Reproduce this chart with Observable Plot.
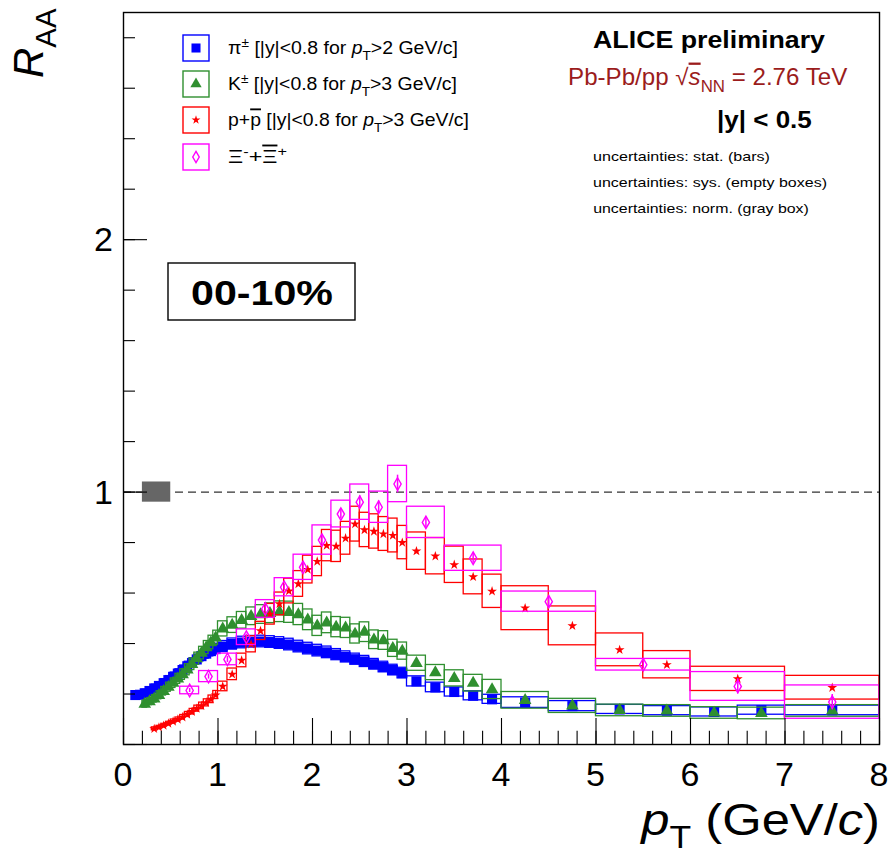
<!DOCTYPE html>
<html>
<head>
<meta charset="utf-8">
<script src="https://cdn.jsdelivr.net/npm/d3@7"></script>
<script src="https://cdn.jsdelivr.net/npm/@observablehq/plot@0.6"></script>
<style>
  body { margin: 0; background: #fff; }
  svg text { font-family: "Liberation Sans", Arial, Helvetica, sans-serif; }
</style>
</head>
<body>
<div id="chart"></div>
<script>
// ---- R_AA in 0-10% Pb-Pb at 2.76 TeV, per species: bin edges, values, systematic half-heights ----
const pionEdges = [0.10,0.15,0.20,0.25,0.30,0.35,0.40,0.45,0.50,0.55,0.60,0.65,0.70,0.75,0.80,0.85,0.90,0.95,1.00,
  1.10,1.20,1.30,1.40,1.50,1.60,1.70,1.80,1.90,2.00,2.10,2.20,2.30,2.40,2.50,2.60,2.70,2.80,2.90,3.00,
  3.20,3.40,3.60,3.80,4.00,4.50,5.00,5.50,6.00,6.50,7.00,8.00];
const pionRaa = [0.196,0.197,0.203,0.212,0.222,0.232,0.243,0.255,0.268,0.281,0.295,0.310,0.323,0.337,0.350,0.360,0.370,0.378,
  0.388,0.398,0.404,0.407,0.408,0.406,0.402,0.396,0.388,0.380,0.372,0.365,0.356,0.347,0.338,0.329,0.318,0.307,0.295,0.283,
  0.250,0.226,0.208,0.193,0.179,0.166,0.152,0.139,0.134,0.129,0.136,0.135];
const pionSys = [0.014,0.014,0.014,0.015,0.015,0.015,0.016,0.016,0.017,0.017,0.018,0.018,0.019,0.019,0.020,0.020,0.021,0.021,
  0.022,0.022,0.023,0.023,0.023,0.023,0.023,0.023,0.023,0.023,0.023,0.023,0.022,0.022,0.022,0.022,0.021,0.021,0.021,0.021,
  0.020,0.019,0.018,0.018,0.018,0.021,0.020,0.018,0.018,0.018,0.018,0.019];

const kaonEdges = [0.20,0.25,0.30,0.35,0.40,0.45,0.50,0.55,0.60,0.65,0.70,0.75,0.80,0.85,0.90,0.95,1.00,
  1.10,1.20,1.30,1.40,1.50,1.60,1.70,1.80,1.90,2.00,2.10,2.20,2.30,2.40,2.50,2.60,2.70,2.80,2.90,3.00,
  3.20,3.40,3.60,3.80,4.00,4.50,5.00,5.50,6.00,6.50,7.00,8.00];
const kaonRaa = [0.160,0.170,0.181,0.195,0.211,0.227,0.243,0.260,0.277,0.296,0.318,0.340,0.362,0.384,0.404,0.423,
  0.458,0.473,0.492,0.508,0.515,0.520,0.526,0.524,0.515,0.494,0.470,0.482,0.465,0.462,0.438,0.445,0.415,0.412,0.381,0.370,
  0.322,0.285,0.262,0.243,0.218,0.175,0.153,0.135,0.133,0.125,0.123,0.133];
const kaonSys = [0.014,0.014,0.015,0.016,0.017,0.018,0.019,0.020,0.021,0.022,0.023,0.024,0.025,0.026,0.027,0.028,
  0.030,0.031,0.033,0.035,0.037,0.039,0.041,0.042,0.042,0.041,0.040,0.041,0.040,0.040,0.038,0.039,0.037,0.037,0.034,0.034,
  0.030,0.030,0.032,0.033,0.038,0.033,0.028,0.023,0.023,0.023,0.023,0.023];

const protonEdges = [0.30,0.35,0.40,0.45,0.50,0.55,0.60,0.65,0.70,0.75,0.80,0.85,0.90,0.95,1.00,
  1.10,1.20,1.30,1.40,1.50,1.60,1.70,1.80,1.90,2.00,2.10,2.20,2.30,2.40,2.50,2.60,2.70,2.80,2.90,3.00,
  3.20,3.40,3.60,3.80,4.00,4.50,5.00,5.50,6.00,7.00,8.00];
const protonRaa = [0.062,0.068,0.075,0.083,0.091,0.099,0.108,0.119,0.130,0.142,0.153,0.165,0.179,0.196,
  0.230,0.278,0.333,0.397,0.450,0.516,0.557,0.608,0.636,0.693,0.725,0.788,0.785,0.817,0.873,0.850,0.844,0.834,0.828,0.800,
  0.766,0.746,0.712,0.664,0.607,0.540,0.470,0.375,0.316,0.260,0.225];
const protonSys = [0.006,0.006,0.007,0.007,0.008,0.008,0.009,0.010,0.011,0.012,0.013,0.014,0.015,0.016,
  0.019,0.023,0.027,0.032,0.036,0.041,0.045,0.049,0.051,0.055,0.058,0.062,0.062,0.065,0.069,0.068,0.068,0.067,0.067,0.066,
  0.074,0.072,0.072,0.069,0.066,0.087,0.077,0.065,0.054,0.048,0.047];

const xiEdges = [0.6,0.8,1.0,1.2,1.4,1.6,1.8,2.0,2.2,2.4,2.6,2.8,3.0,3.4,4.0,5.0,6.0,7.0,8.0];
const xiRaa  = [0.214,0.269,0.337,0.425,0.537,0.623,0.702,0.810,0.913,0.960,0.940,1.032,0.880,0.738,0.566,0.316,0.230,0.168];
const xiSys  = [0.015,0.022,0.023,0.031,0.035,0.036,0.050,0.058,0.053,0.070,0.062,0.072,0.062,0.050,0.040,0.023,0.057,0.066];
const xiStat = [0.008,0.010,0.012,0.012,0.012,0.012,0.015,0.018,0.020,0.025,0.025,0.035,0.020,0.020,0.020,0.015,0.030,0.030];

// normalisation uncertainty drawn at unity
const normBox = [{x1: 0.2, x2: 0.5, y1: 0.96, y2: 1.04}];

// axis ticks
const xTickLabels = [0, 1, 2, 3, 4, 5, 6, 7, 8];
const yTickLabels = [1, 2];
const xMinor = d3.range(0, 8.001, 0.2);
const yMinor = d3.range(0, 2.901, 0.2);
const yMajor = [0, 1, 2];

const colors = {pion: "#0000ff", kaon: "#2f8f2f", proton: "#ff0000", xi: "#ff00ff"};

function bins(edges, raa, sys, stat) {
  return raa.map((v, i) => ({
    lo: edges[i], hi: edges[i + 1], pt: (edges[i] + edges[i + 1]) / 2,
    v, sys: sys[i], stat: stat ? stat[i] : 0
  }));
}
const pion = bins(pionEdges, pionRaa, pionSys);
const kaon = bins(kaonEdges, kaonRaa, kaonSys);
const proton = bins(protonEdges, protonRaa, protonSys);
const xi = bins(xiEdges, xiRaa, xiSys, xiStat);

function sysBoxes(data, color) {
  return Plot.rect(data, {x1: "lo", x2: "hi", y1: d => d.v - d.sys, y2: d => d.v + d.sys,
    fill: "none", stroke: color, strokeWidth: 1.3});
}

const marker = {
  pion:   {symbol: "square",   r: 5.7, fill: colors.pion},
  kaon:   {symbol: "triangle", r: 4.7, fill: colors.kaon},
  proton: {symbol: "star",     r: 3.1, fill: colors.proton},
  xi:     {symbol: "diamond",  r: 3.8, fill: "none", stroke: colors.xi, strokeWidth: 1.4}
};

const plot = Plot.plot({
  width: 894,
  height: 858,
  marginLeft: 123,
  marginRight: 15,
  marginTop: 12,
  marginBottom: 114,
  style: {background: "#fff"},
  x: {domain: [0, 8], axis: null},
  y: {domain: [0, 2.9], axis: null},
  marks: [
    Plot.ruleY([1], {stroke: "#333", strokeWidth: 1.3, strokeDasharray: "8,5"}),
    Plot.rect(normBox, {x1: "x1", x2: "x2", y1: "y1", y2: "y2", fill: "#666"}),

    sysBoxes(pion, colors.pion),
    Plot.dot(pion, {x: "pt", y: "v", ...marker.pion}),
    sysBoxes(kaon, colors.kaon),
    Plot.dot(kaon, {x: "pt", y: "v", ...marker.kaon}),
    sysBoxes(proton, colors.proton),
    Plot.dot(proton, {x: "pt", y: "v", ...marker.proton}),
    sysBoxes(xi, colors.xi),
    Plot.ruleX(xi, {x: "pt", y1: d => d.v - d.stat, y2: d => d.v + d.stat, stroke: colors.xi, strokeWidth: 1.5}),
    Plot.dot(xi, {x: "pt", y: "v", ...marker.xi}),

    // inward ticks
    Plot.ruleX(xMinor, {x: d => d, y1: 0, y2: 0.052, stroke: "#000", strokeWidth: 1.1}),
    Plot.ruleX(xTickLabels, {x: d => d, y1: 0, y2: 0.103, stroke: "#000", strokeWidth: 1.1}),
    Plot.ruleY(yMinor, {y: d => d, x1: 0, x2: 0.127, stroke: "#000", strokeWidth: 1.1}),
    Plot.ruleY(yMajor, {y: d => d, x1: 0, x2: 0.254, stroke: "#000", strokeWidth: 1.1}),
    Plot.frame({stroke: "#000", strokeWidth: 1.4})
  ]
});

document.getElementById("chart").appendChild(plot);
const svg = d3.select(plot);
const sx = plot.scale("x"), sy = plot.scale("y");

// Rich text: parts are strings or {t, sub, sup, i, over}; optional target width stretches horizontally.
function rich(parts, {x, y, size, weight = "normal", fill = "#000", width = null, anchor = "start", rotate = 0}) {
  const g = svg.append("g").attr("transform", `translate(${x},${y}) rotate(${rotate})`);
  const t = g.append("text").attr("font-size", size).attr("font-weight", weight).attr("fill", fill);
  let shift = 0;
  for (const p of parts) {
    const s = typeof p === "string" ? {t: p} : p;
    let target = 0, fs = size;
    if (s.sub) { target = size * 0.3; fs = size * 0.7; }
    if (s.sup) { target = -size * 0.38; fs = size * 0.7; }
    const ts = t.append("tspan").text(s.t).attr("font-size", fs).attr("dy", target - shift);
    shift = target;
    if (s.i) ts.attr("font-style", "italic");
    if (s.over) ts.style("text-decoration", "overline");
  }
  const b = t.node().getBBox();
  const k = width ? width / b.width : 1;
  const ox = anchor === "start" ? -b.x : anchor === "end" ? -(b.x + b.width) : -(b.x + b.width / 2);
  t.attr("transform", `scale(${k},1) translate(${ox},0)`);
  return g;
}

// tick labels
for (const v of xTickLabels) rich([String(v)], {x: sx.apply(v), y: 786, size: 34, anchor: "middle"});
for (const v of yTickLabels) rich([String(v)], {x: 113, y: sy.apply(v) + 12, size: 34, anchor: "end"});

// axis titles
rich([{t: "p", i: true}, {t: "T", sub: true}, " (GeV/", {t: "c", i: true}, ")"],
  {x: 639, y: 835, size: 44, width: 241});
rich([{t: "R", i: true}, {t: "AA", sub: true}], {x: 43, y: 78, size: 42, rotate: -90});

// legend
const legendRows = [
  {key: "pion", y: 48, parts: ["π", {t: "±", sup: true}, " [|y|<0.8 for ", {t: "p", i: true}, {t: "T", sub: true}, ">2 GeV/c]"], w: 230},
  {key: "kaon", y: 84, parts: ["K", {t: "±", sup: true}, " [|y|<0.8 for ", {t: "p", i: true}, {t: "T", sub: true}, ">3 GeV/c]"], w: 229},
  {key: "proton", y: 120, parts: ["p+", {t: "p", over: true}, " [|y|<0.8 for ", {t: "p", i: true}, {t: "T", sub: true}, ">3 GeV/c]"], w: 241},
  {key: "xi", y: 157, parts: ["Ξ", {t: "-", sup: true}, "+", {t: "Ξ", over: true}, {t: "+", sup: true}], w: 59}
];
const symbols = {square: d3.symbolSquare, triangle: d3.symbolTriangle, star: d3.symbolStar, diamond: d3.symbolDiamond};
for (const row of legendRows) {
  const m = marker[row.key];
  svg.append("rect").attr("x", 183).attr("y", row.y - 13).attr("width", 26).attr("height", 26)
    .attr("fill", "#fff").attr("stroke", colors[row.key]).attr("stroke-width", 1.4);
  svg.append("path").attr("transform", `translate(196,${row.y})`)
    .attr("d", d3.symbol(symbols[m.symbol], m.r * m.r * Math.PI * 0.8)())
    .attr("fill", m.fill).attr("stroke", m.stroke || "none").attr("stroke-width", m.strokeWidth || 0);
  rich(row.parts, {x: 228, y: row.y + 6, size: 18.5, width: row.w});
}

// header block
rich(["ALICE preliminary"], {x: 593, y: 48, size: 23.5, weight: "bold", width: 232});
rich(["Pb-Pb/pp ", "√", {t: "s", i: true, over: true}, {t: "NN", sub: true}, " = 2.76 TeV"],
  {x: 568, y: 85, size: 23, fill: "#9b1c1c", width: 280});
rich(["|y| < 0.5"], {x: 717, y: 128, size: 23, weight: "bold", width: 95});
rich(["uncertainties: stat. (bars)"], {x: 593, y: 161, size: 13, width: 177});
rich(["uncertainties: sys. (empty boxes)"], {x: 593, y: 187, size: 13, width: 234});
rich(["uncertainties: norm. (gray box)"], {x: 593, y: 213, size: 13, width: 216});

// centrality tag
svg.append("rect").attr("x", 168).attr("y", 263).attr("width", 187).attr("height", 57)
  .attr("fill", "#fff").attr("stroke", "#000").attr("stroke-width", 1.4);
rich(["00-10%"], {x: 262, y: 305, size: 36, weight: "bold", anchor: "middle", width: 142});
</script>
</body>
</html>
